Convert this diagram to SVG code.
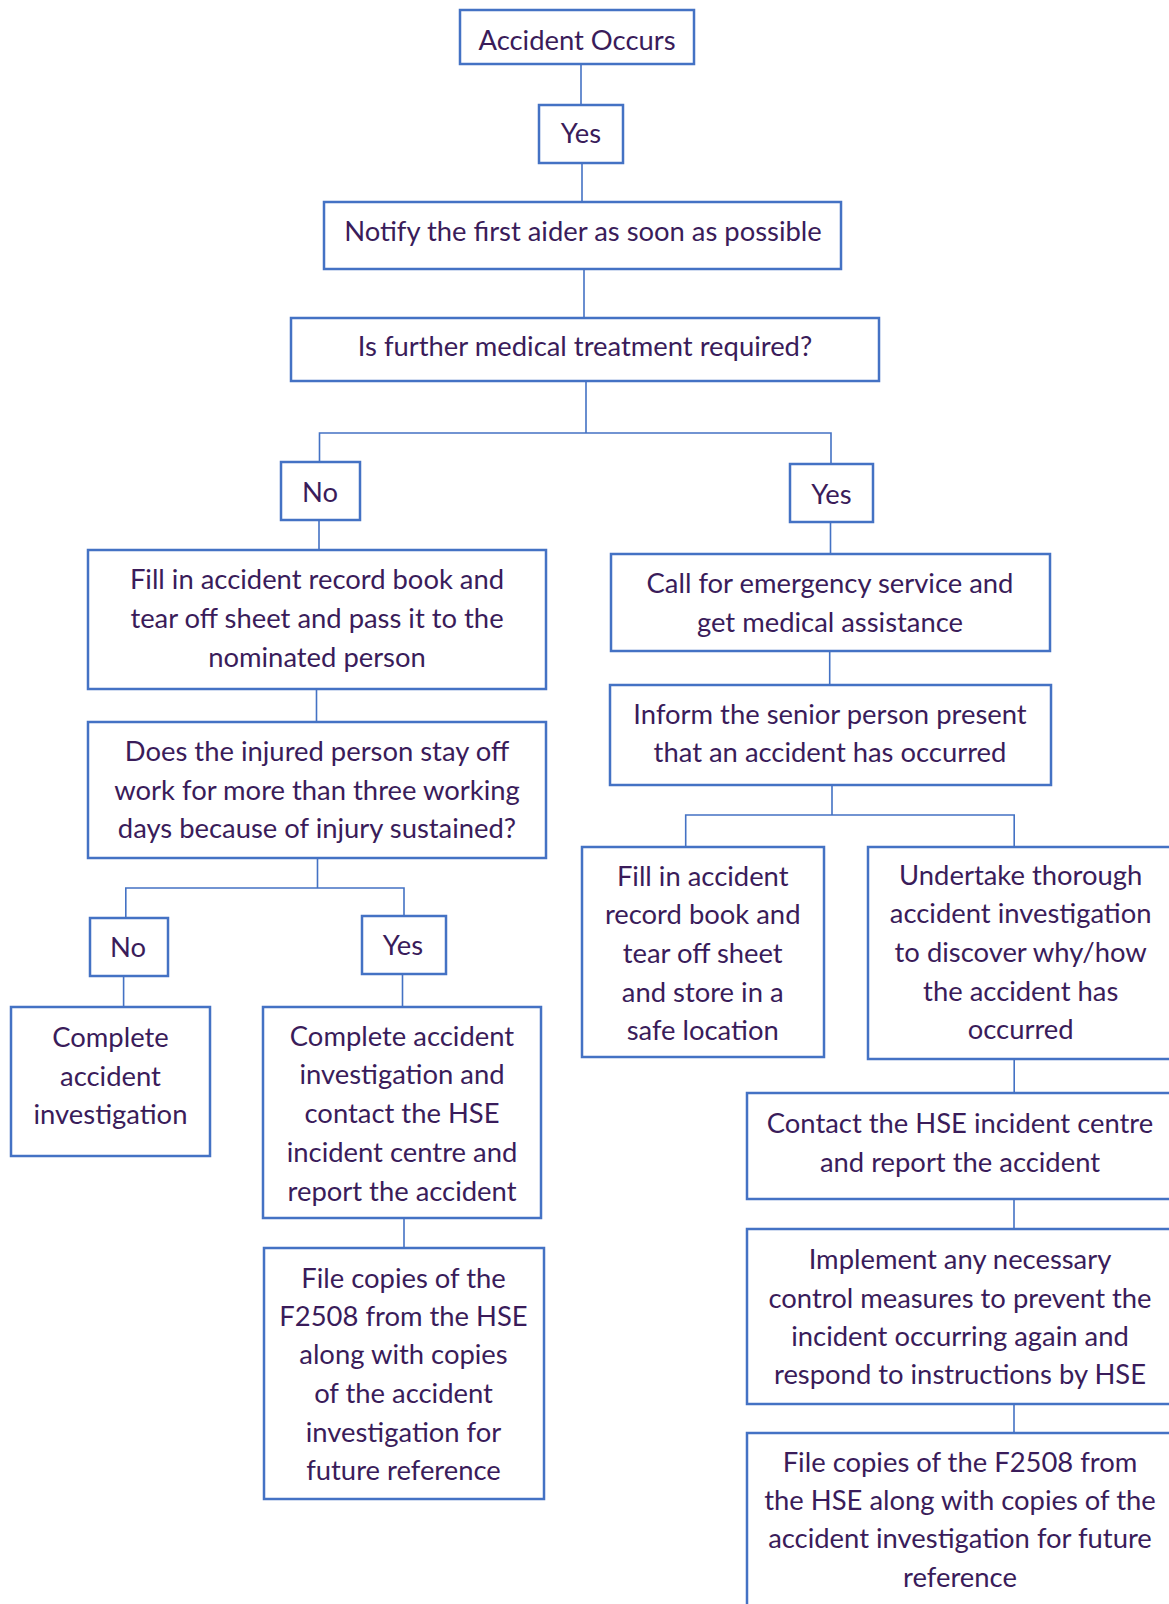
<svg xmlns="http://www.w3.org/2000/svg" width="1169" height="1604" viewBox="0 0 1169 1604">
<style>
.box{fill:#ffffff;stroke:#4472C4;stroke-width:2.5}
.con{fill:none;stroke:#4472C4;stroke-width:1.6}
text{font-family:Lato,"Open Sans","Liberation Sans",sans-serif;font-size:27.4px;fill:#3a1c5a;text-anchor:middle}
</style>
<rect width="1169" height="1604" fill="#ffffff"/>
<g id="connectors">
<path class="con" d="M581,64V105"/>
<path class="con" d="M582,163V202"/>
<path class="con" d="M584,269V318"/>
<path class="con" d="M586,381V433M319.5,462V433H831V464"/>
<path class="con" d="M319,520V550"/>
<path class="con" d="M316.5,689V722"/>
<path class="con" d="M317.5,858V888M125.8,918V888H404V916"/>
<path class="con" d="M123.6,976V1007"/>
<path class="con" d="M402.5,974V1007"/>
<path class="con" d="M404,1218V1248"/>
<path class="con" d="M830.5,522V554"/>
<path class="con" d="M829.7,651V685"/>
<path class="con" d="M832,785V815M685.7,847V815H1014.2V847"/>
<path class="con" d="M1014.2,1059V1093"/>
<path class="con" d="M1014,1199V1229"/>
<path class="con" d="M1014,1404V1433"/>
</g>
<g id="n1"><rect class="box" x="460" y="10" width="234" height="54"/><text x="577" y="50">Accident Occurs</text></g>
<g id="n2"><rect class="box" x="539" y="105" width="84" height="58"/><text x="581" y="143">Yes</text></g>
<g id="n3"><rect class="box" x="324" y="202" width="517" height="67"/><text x="583" y="241">Notify the first aider as soon as possible</text></g>
<g id="n4"><rect class="box" x="291" y="318" width="588" height="63"/><text x="585" y="356">Is further medical treatment required?</text></g>
<g id="n5"><rect class="box" x="281" y="462" width="79" height="58"/><text x="320" y="502">No</text></g>
<g id="n6"><rect class="box" x="88" y="550" width="458" height="139"/><text x="317" y="589">Fill in accident record book and</text><text x="317" y="628">tear off sheet and pass it to the</text><text x="317" y="667">nominated person</text></g>
<g id="n7"><rect class="box" x="88" y="722" width="458" height="136"/><text x="317" y="761">Does the injured person stay off</text><text x="317" y="800">work for more than three working</text><text x="317" y="838">days because of injury sustained?</text></g>
<g id="n8"><rect class="box" x="90" y="918" width="78" height="58"/><text x="128" y="957">No</text></g>
<g id="n9"><rect class="box" x="362" y="916" width="84" height="58"/><text x="403" y="955">Yes</text></g>
<g id="n10"><rect class="box" x="11" y="1007" width="199" height="149"/><text x="110.5" y="1047">Complete</text><text x="110.5" y="1086">accident</text><text x="110.5" y="1124">investigation</text></g>
<g id="n11"><rect class="box" x="263" y="1007" width="278" height="211"/><text x="402" y="1046">Complete accident</text><text x="402" y="1084">investigation and</text><text x="402" y="1123">contact the HSE</text><text x="402" y="1162">incident centre and</text><text x="402" y="1201">report the accident</text></g>
<g id="n12"><rect class="box" x="264" y="1248" width="280" height="251"/><text x="403.5" y="1288">File copies of the</text><text x="403.5" y="1326">F2508 from the HSE</text><text x="403.5" y="1364">along with copies</text><text x="403.5" y="1403">of the accident</text><text x="403.5" y="1442">investigation for</text><text x="403.5" y="1480">future reference</text></g>
<g id="n13"><rect class="box" x="790" y="464" width="83" height="58"/><text x="831.5" y="504">Yes</text></g>
<g id="n14"><rect class="box" x="611" y="554" width="439" height="97"/><text x="830" y="593">Call for emergency service and</text><text x="830" y="632">get medical assistance</text></g>
<g id="n15"><rect class="box" x="610" y="685" width="441" height="100"/><text x="830" y="724">Inform the senior person present</text><text x="830" y="762">that an accident has occurred</text></g>
<g id="n16"><rect class="box" x="582" y="847" width="242" height="210"/><text x="702.7" y="886">Fill in accident</text><text x="702.7" y="924">record book and</text><text x="702.7" y="963">tear off sheet</text><text x="702.7" y="1002">and store in a</text><text x="702.7" y="1040">safe location</text></g>
<g id="n17"><rect class="box" x="868" y="847" width="305" height="212"/><text x="1020.7" y="885">Undertake thorough</text><text x="1020.7" y="923">accident investigation</text><text x="1020.7" y="962">to discover why/how</text><text x="1020.7" y="1001">the accident has</text><text x="1020.7" y="1039">occurred</text></g>
<g id="n18"><rect class="box" x="747" y="1093" width="426" height="106"/><text x="960" y="1133">Contact the HSE incident centre</text><text x="960" y="1172">and report the accident</text></g>
<g id="n19"><rect class="box" x="747" y="1229" width="426" height="175"/><text x="960" y="1269">Implement any necessary</text><text x="960" y="1308">control measures to prevent the</text><text x="960" y="1346">incident occurring again and</text><text x="960" y="1384">respond to instructions by HSE</text></g>
<g id="n20"><rect class="box" x="747" y="1433" width="426" height="200"/><text x="960" y="1472">File copies of the F2508 from</text><text x="960" y="1510">the HSE along with copies of the</text><text x="960" y="1548">accident investigation for future</text><text x="960" y="1587">reference</text></g>
</svg>
